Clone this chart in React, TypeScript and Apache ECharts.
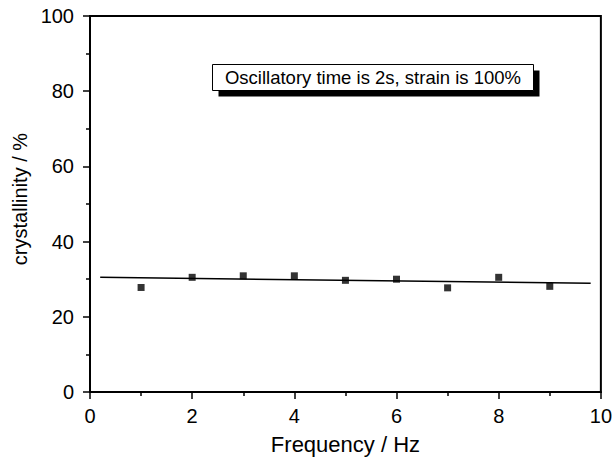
import React, { useEffect, useRef } from "react";
import * as echarts from "echarts";

const frequency = [1, 2, 3, 4, 5, 6, 7, 8, 9];
const crystallinity = [27.8, 30.5, 30.9, 30.9, 29.7, 30.0, 27.7, 30.5, 28.1];
const fitX = [0.2, 9.8];
const fitY = [30.5, 28.9];
const annotation = "Oscillatory time is 2s, strain is 100%";

const FONT = "'Liberation Sans', Arial, Helvetica, sans-serif";

export default function App() {
  const ref = useRef<HTMLDivElement>(null);
  useEffect(() => {
    if (!ref.current) return;
    const chart = echarts.init(ref.current, undefined, { renderer: "svg" });
    const axisCommon = {
      axisLine: { show: true, onZero: false, lineStyle: { color: "#000", width: 2 } },
      axisTick: { show: true, inside: false, length: 7, lineStyle: { color: "#000", width: 1.5 } },
      minorTick: { show: true, splitNumber: 2, length: 4, lineStyle: { color: "#000", width: 1.5 } },
      splitLine: { show: false },
      minorSplitLine: { show: false },
    };
    chart.setOption({
      animation: false,
      backgroundColor: "#fff",
      textStyle: { fontFamily: FONT },
      grid: {
        left: 90,
        right: 13,
        top: 16,
        bottom: 64,
        show: true,
        borderColor: "#000",
        borderWidth: 2,
        backgroundColor: "transparent",
      },
      xAxis: {
        type: "value",
        min: 0,
        max: 10,
        interval: 2,
        ...axisCommon,
        axisLabel: { color: "#000", fontSize: 20, margin: 14, fontFamily: FONT },
        name: "Frequency / Hz",
        nameLocation: "middle",
        nameGap: 41,
        nameTextStyle: { color: "#000", fontSize: 22, fontFamily: FONT },
      },
      yAxis: {
        type: "value",
        min: 0,
        max: 100,
        interval: 20,
        ...axisCommon,
        axisLabel: { color: "#000", fontSize: 20, margin: 16, fontFamily: FONT },
        name: "crystallinity / %",
        nameLocation: "middle",
        nameGap: 54,
        nameTextStyle: { color: "#000", fontSize: 20, fontFamily: FONT, padding: [0, 0, 0, 10] },
      },
      series: [
        {
          type: "scatter",
          data: frequency.map((f, i) => [f, crystallinity[i]]),
          symbol: "rect",
          symbolSize: 7,
          itemStyle: { color: "#000" },
          z: 3,
        },
        {
          type: "line",
          data: fitX.map((x, i) => [x, fitY[i]]),
          showSymbol: false,
          symbol: "none",
          lineStyle: { color: "#000", width: 1.5 },
          z: 2,
        },
      ],
      graphic: [
        {
          type: "group",
          left: 212,
          top: 64,
          children: [
            {
              type: "rect",
              shape: { x: 6, y: 6, width: 321, height: 26 },
              style: { fill: "#000" },
            },
            {
              type: "rect",
              shape: { x: 0, y: 0, width: 321, height: 26 },
              style: { fill: "#fff", stroke: "#000", lineWidth: 1 },
            },
            {
              type: "text",
              x: 160.5,
              y: 13,
              style: {
                text: annotation,
                fill: "#000",
                fontSize: 18.5,
                fontFamily: FONT,
                align: "center",
                verticalAlign: "middle",
              },
            },
          ],
        },
      ],
    });
    return () => chart.dispose();
  }, []);
  return (
    <div
      ref={ref}
      style={{ position: "absolute", left: 0, top: 0, width: 615, height: 460 }}
    />
  );
}
